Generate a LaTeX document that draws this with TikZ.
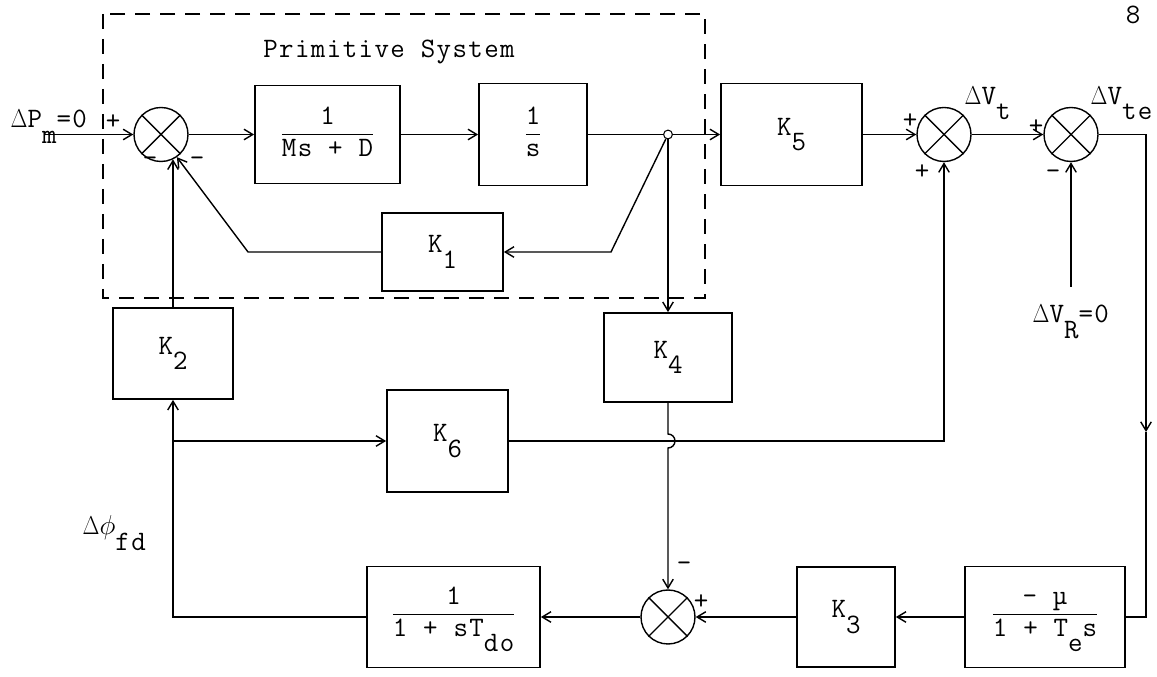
\documentclass[tikz,border=0pt]{standalone}
\usepackage{fontspec}
\setmainfont{Latin Modern Mono}[LetterSpace=5]
\usepackage{graphicx}
\usepackage{tikz}
\usetikzlibrary{arrows.meta,calc,positioning}
\newcommand{\lo}[1]{\raisebox{-0.55em}{#1}}
\newcommand{\frc}[2]{\begin{tabular}{@{}c@{}}#1\\\hline #2\end{tabular}}
\newcommand{\dlt}{\scalebox{0.72}[0.85]{$\Delta$}}

\begin{document}
\begin{tikzpicture}[>={Straight Barb[length=5pt,width=6pt]},line width=0.8pt,
  font=\fontsize{16}{18}\selectfont,
  blk/.style={draw,line width=1pt,inner sep=2pt},
  sumj/.style={draw,circle,minimum size=1.08cm,inner sep=0pt},
  sgn/.style={inner sep=0pt},
  lbl/.style={inner sep=0pt,anchor=base west}]
\useasboundingbox (0,0) rectangle (23.14,13.54);
\draw[dash pattern=on 0.3cm off 0.2cm] (2.06,13.26) rectangle (14.10,7.58);
\node (prim) at (7.78,12.5) {Primitive System};
\node[anchor=north,inner sep=0pt] (pg) at (22.66,13.44) {8};

% summing points
\foreach \nm/\x/\y in {s1/3.22/10.85, s2/18.88/10.85, s3/21.42/10.85, s4/13.36/1.2}{
  \node[sumj] (\nm) at (\x,\y) {};
  \draw (\nm.north west)--(\nm.south east) (\nm.north east)--(\nm.south west);
}

% blocks
\node[blk,minimum width=2.9cm,minimum height=1.96cm] (G1) at (6.55,10.85) {\frc{1}{Ms + D}};
\node[blk,minimum width=2.16cm,minimum height=2.04cm] (G2) at (10.66,10.85) {\frc{1}{s}};
\node[blk,minimum width=2.82cm,minimum height=2.04cm] (K5) at (15.83,10.85) {K\lo{5}};
\node[blk,minimum width=2.42cm,minimum height=1.56cm] (K1) at (8.85,8.5) {K\lo{1}};
\node[blk,minimum width=2.4cm,minimum height=1.82cm] (K2) at (3.46,6.47) {K\lo{2}};
\node[blk,minimum width=2.56cm,minimum height=1.78cm] (K4) at (13.36,6.39) {K\lo{4}};
\node[blk,minimum width=2.42cm,minimum height=2.04cm] (K6) at (8.95,4.72) {K\lo{6}};
\node[blk,minimum width=3.46cm,minimum height=2.02cm] (Tdo) at (9.07,1.2) {\frc{1}{1 + sT\lo{do}}};
\node[blk,minimum width=1.96cm,minimum height=2.0cm] (K3) at (16.92,1.2) {K\lo{3}};
\node[blk,minimum width=3.2cm,minimum height=2.02cm] (Bmu) at (20.9,1.2) {\frc{– µ}{1 + T\lo{e}s}};

% signs and signal names
\foreach \nm/\x/\y/\t in {p1/2.26/11.09/+, m1a/3.0/10.31/–, m1b/3.94/10.31/–,
    p2a/18.2/11.11/+, p2b/18.44/10.09/+, p3/20.72/10.99/+, m3/21.06/10.05/–,
    p4/14.02/1.5/+, m4/13.68/2.2/–}
  \node[sgn] (\nm) at (\x,\y) {\t};
\node[lbl] (dpm) at (0.2,10.98) {\dlt P\lo{m}=0};
\node[lbl] (dvt) at (19.28,11.45) {\dlt V\lo{t}};
\node[lbl] (dvte) at (21.8,11.45) {\dlt V\lo{te}};
\node[lbl] (dvr) at (20.64,7.08) {\dlt V\lo{R}=0};
\node[lbl] (dphi) at (1.64,2.84) {\dlt\scalebox{0.9}{$\phi$}\lo{fd}};

\node[circle,draw,fill=white,inner sep=0pt,minimum size=5pt,line width=0.6pt] (br) at (13.36,10.85) {};
\coordinate (pin) at (0.9,10.85);
\coordinate (k1r) at (12.22,8.5);
\coordinate (k1l) at (4.96,8.5);
\coordinate (vr) at (21.42,7.8);
\coordinate (rdn) at (22.92,4.9);

% forward path
\draw[->] (pin) -- (s1.west);
\draw[->] (s1.east) -- (G1.west);
\draw[->] (G1.east) -- (G2.west);
\draw (G2.east) -- (br);
\draw[->] (br) -- (K5.west);
\draw[->] (K5.east) -- (s2.west);
\draw[->] (s2.east) -- (s3.west);
\draw[->] (s3.east) -| (rdn);
\draw (rdn) |- (Bmu.east);
\draw[->] (vr) -- (s3.south);
\draw[->] (Bmu.west) -- (K3.east);
\draw[->] (K3.west) -- (s4.east);
\draw[->] (s4.west) -- (Tdo.east);
% feedback paths
\draw[->] (br) -- (k1r) -- (K1.east);
\draw[->] (K1.west) -- (k1l) -- (s1.-55);
\draw[->] (br) -- (K4.north);
\draw[->] (K2.north) -- (K2.north |- s1.-64);
\draw[->] (Tdo.west) -| (K2.south);
\draw[->] (K2.south |- K6.west) -- (K6.west);
\draw[->] (K6.east) -| (s2.south);
\draw[->] (K4.south) -- ($(K4.south |- K6.east)+(0,0.14)$) arc (90:-90:0.14) -- (s4.north);
\end{tikzpicture}
\end{document}
